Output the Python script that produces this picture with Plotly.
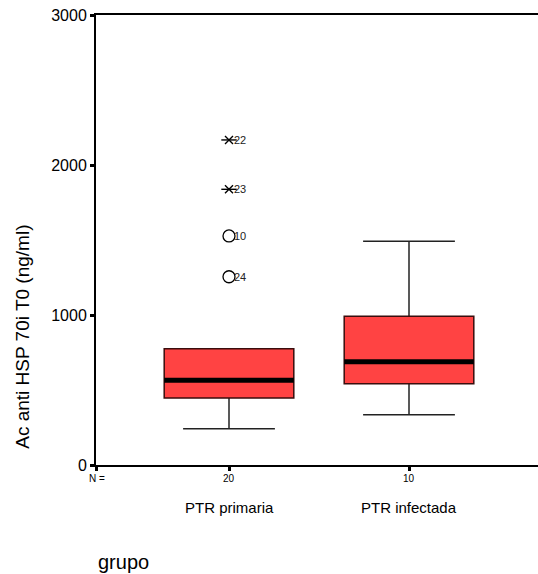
import plotly.graph_objects as go

# Group labels and case counts
groups = ["PTR primaria", "PTR infectada"]
n_counts = [20, 10]

# Box statistics per group (ng/ml)
q1 = [447, 542]
median = [565, 689]
q3 = [775, 991]
whisker_low = [242, 335]
whisker_high = [775, 1491]

# Flagged cases in "PTR primaria": extremes (*) and outliers (o)
extreme_ids = [22, 23]
extreme_vals = [2167, 1838]
outlier_ids = [10, 24]
outlier_vals = [1527, 1255]

y_ticks = [0, 1000, 2000, 3000]

FONT = "Arial, Liberation Sans, sans-serif"
BOX_FILL = "#ff4343"
BOX_HALF = 0.36
CAP_HALF = 0.255
X_MIN, X_MAX = 0.2611, 2.7167

positions = list(range(1, len(groups) + 1))

shapes = []
for pos, lo, a, m, b, hi in zip(positions, whisker_low, q1, median, q3, whisker_high):
    # whiskers and caps
    if lo < a:
        shapes.append(dict(type="line", xref="x", yref="y", x0=pos, x1=pos, y0=lo, y1=a,
                           line=dict(color="#222222", width=1.5)))
        shapes.append(dict(type="line", xref="x", yref="y", x0=pos - CAP_HALF, x1=pos + CAP_HALF,
                           y0=lo, y1=lo, line=dict(color="#222222", width=1.5)))
    if hi > b:
        shapes.append(dict(type="line", xref="x", yref="y", x0=pos, x1=pos, y0=b, y1=hi,
                           line=dict(color="#222222", width=1.5)))
        shapes.append(dict(type="line", xref="x", yref="y", x0=pos - CAP_HALF, x1=pos + CAP_HALF,
                           y0=hi, y1=hi, line=dict(color="#222222", width=1.5)))
    # interquartile box
    shapes.append(dict(type="rect", xref="x", yref="y", x0=pos - BOX_HALF, x1=pos + BOX_HALF,
                       y0=a, y1=b, fillcolor=BOX_FILL, line=dict(color="#3a0d0d", width=1.5)))
    # median
    shapes.append(dict(type="line", xref="x", yref="y", x0=pos - BOX_HALF, x1=pos + BOX_HALF,
                       y0=m, y1=m, line=dict(color="black", width=5)))

fig = go.Figure()

# Extreme cases: an "x" crossed by a horizontal bar
ext_x = [positions[0]] * len(extreme_vals)
for sym, size in (("x-thin-open", 8), ("line-ew-open", 11)):
    fig.add_trace(go.Scatter(
        x=ext_x, y=extreme_vals, mode="markers",
        marker=dict(symbol=sym, size=size, color="black", line=dict(width=1.4, color="black")),
        showlegend=False, hoverinfo="skip"))

# Outlying cases: open circles
fig.add_trace(go.Scatter(
    x=[positions[0]] * len(outlier_vals), y=outlier_vals, mode="markers",
    marker=dict(symbol="circle-open", size=12, color="black", line=dict(width=1.3, color="black")),
    showlegend=False, hoverinfo="skip"))

annotations = []
for cid, val in zip(extreme_ids + outlier_ids, extreme_vals + outlier_vals):
    annotations.append(dict(x=positions[0], y=val, xref="x", yref="y", text=str(cid),
                            showarrow=False, xanchor="left", yanchor="middle", xshift=3,
                            font=dict(family=FONT, size=11, color="#222222")))

# N row beneath the axis
annotations.append(dict(x=X_MIN, y=0, xref="x", yref="paper", yshift=-13, xshift=-9,
                        text="N =", showarrow=False, xanchor="left", yanchor="middle",
                        font=dict(family=FONT, size=10, color="black")))
for pos, n in zip(positions, n_counts):
    annotations.append(dict(x=pos, y=0, xref="x", yref="paper", yshift=-13, text=str(n),
                            showarrow=False, xanchor="center", yanchor="middle",
                            font=dict(family=FONT, size=10, color="black")))
for pos, g in zip(positions, groups):
    annotations.append(dict(x=pos, y=0, xref="x", yref="paper", yshift=-42, text=g,
                            showarrow=False, xanchor="center", yanchor="middle",
                            font=dict(family=FONT, size=15, color="black")))

annotations.append(dict(x=0, y=0, xref="paper", yref="paper", text="grupo",
                        showarrow=False, xanchor="left", yanchor="middle", yshift=-97,
                        font=dict(family=FONT, size=20, color="black")))
annotations.append(dict(x=0, y=0.285, xref="paper", yref="paper", text="Ac anti HSP 70i T0 (ng/ml)",
                        showarrow=False, textangle=-90, xanchor="center", yanchor="middle",
                        xshift=-73, font=dict(family=FONT, size=19, color="black")))

fig.update_layout(
    width=538, height=574,
    margin=dict(l=96, r=0, t=15, b=109),
    paper_bgcolor="white", plot_bgcolor="white",
    shapes=shapes, annotations=annotations,
    showlegend=False,
    xaxis=dict(range=[X_MIN, X_MAX], tickvals=[X_MIN] + positions, showticklabels=False,
               ticks="outside", ticklen=4, tickwidth=3, tickcolor="black",
               showline=True, linecolor="black", linewidth=2, mirror=True,
               showgrid=False, zeroline=False, fixedrange=True),
    yaxis=dict(range=[0, 3000], tickvals=y_ticks, ticktext=[str(v) for v in y_ticks],
               ticks="outside", ticklen=4, tickwidth=3, tickcolor="black",
               showline=True, linecolor="black", linewidth=2,
               showgrid=False, zeroline=False, fixedrange=True,
               tickfont=dict(family=FONT, size=16, color="black")),
)

fig.write_html("out.html")
